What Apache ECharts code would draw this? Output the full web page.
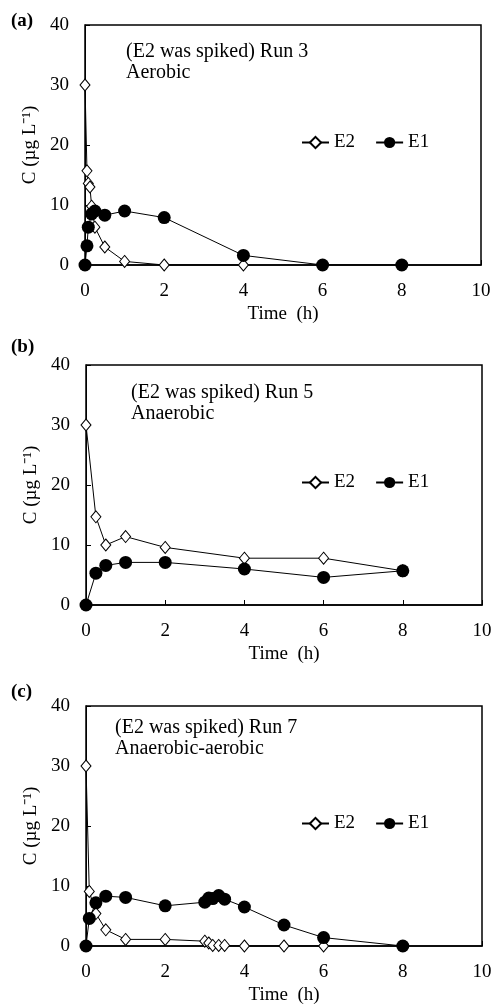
<!DOCTYPE html>
<html>
<head>
<meta charset="utf-8">
<script src="https://cdn.jsdelivr.net/npm/echarts@6/dist/echarts.min.js"></script>
<style>
html,body{margin:0;padding:0;background:#fff;}
#chart{width:496px;height:1004px;}
</style>
</head>
<body>
<div id="chart"></div>
<script>
// [time (h), C (ug/L)]
var run3E2 = [[0,30],[0.05,15.7],[0.083,13.6],[0.125,13],[0.167,9.8],[0.25,6.3],[0.5,3.0],[1,0.6],[2,0],[4,0]];
var run3E1 = [[0,0],[0.05,3.2],[0.083,6.3],[0.167,8.5],[0.25,9.0],[0.5,8.3],[1,9.0],[2,7.9],[4,1.6],[6,0],[8,0]];
var run5E2 = [[0,30],[0.25,14.7],[0.5,10],[1,11.4],[2,9.6],[4,7.8],[6,7.8],[8,5.7]];
var run5E1 = [[0,0],[0.25,5.3],[0.5,6.6],[1,7.1],[2,7.1],[4,6.0],[6,4.6],[8,5.7]];
var run7E2 = [[0,30],[0.083,9.1],[0.25,5.4],[0.5,2.7],[1,1.1],[2,1.1],[3,0.8],[3.1,0.5],[3.2,0.1],[3.35,0.1],[3.5,0.1],[4,0],[5,0],[6,0]];
var run7E1 = [[0,0],[0.083,4.6],[0.25,7.2],[0.5,8.3],[1,8.1],[2,6.7],[3,7.3],[3.1,8.0],[3.2,7.9],[3.35,8.4],[3.5,7.8],[4,6.5],[5,3.5],[6,1.4],[8,0]];

var panelTags = ['(a)', '(b)', '(c)'];
var runNotes = ['(E2 was spiked) Run 3', '(E2 was spiked) Run 5', '(E2 was spiked) Run 7'];
var runModes = ['Aerobic', 'Anaerobic', 'Anaerobic-aerobic'];
var e2Sets = [run3E2, run5E2, run7E2];
var e1Sets = [run3E1, run5E1, run7E1];
var xTicks = {min: 0, max: 10, interval: 2};
var yTicks = {min: 0, max: 40, interval: 10};

var font = '"Liberation Serif","Times New Roman",serif';
var gridTop = [25, 365, 706];
var gridLeft = [85, 86, 86];
var tagTop = [12, 338, 683];
var noteLeft = [126, 131, 115];
var noteTop = [27, 28, 22];

var chart = echarts.init(document.getElementById('chart'));
var grids = [], xAxes = [], yAxes = [], series = [], legends = [], titles = [];

for (var i = 0; i < 3; i++) {
  grids.push({left: gridLeft[i], top: gridTop[i], width: 396, height: 240,
    show: true, borderColor: '#000', borderWidth: 1.5, outerBoundsMode: 'none'});
  xAxes.push({type: 'value', gridIndex: i, min: xTicks.min, max: xTicks.max, interval: xTicks.interval,
    name: 'Time  (h)', nameLocation: 'middle', nameGap: 40,
    nameTextStyle: {fontFamily: font, fontSize: 19, color: '#000'},
    axisLine: {show: true, onZero: false, lineStyle: {color: '#000', width: 1.5}},
    axisTick: {inside: true, length: 5, lineStyle: {color: '#000'}},
    axisLabel: {fontFamily: font, fontSize: 19, color: '#000', margin: 17},
    splitLine: {show: false}});
  yAxes.push({type: 'value', gridIndex: i, min: yTicks.min, max: yTicks.max, interval: yTicks.interval,
    name: 'C (µg L⁻¹)', nameLocation: 'middle', nameGap: 35, nameRotate: 90,
    nameTextStyle: {fontFamily: font, fontSize: 19, color: '#000'},
    axisLine: {show: true, onZero: false, lineStyle: {color: '#000', width: 1}},
    axisTick: {inside: true, length: 5, lineStyle: {color: '#000'}},
    axisLabel: {fontFamily: font, fontSize: 19, color: '#000', margin: 16},
    splitLine: {show: false}});
  series.push({name: 'E2', type: 'line', xAxisIndex: i, yAxisIndex: i, data: e2Sets[i],
    symbol: 'diamond', symbolSize: [10, 12], showAllSymbol: true, z: 2,
    itemStyle: {color: '#fff', borderColor: '#000', borderWidth: 1},
    lineStyle: {color: '#000', width: 1}});
  series.push({name: 'E1', type: 'line', xAxisIndex: i, yAxisIndex: i, data: e1Sets[i],
    symbol: 'circle', symbolSize: 13, showAllSymbol: true, z: 3,
    itemStyle: {color: '#000'},
    lineStyle: {color: '#000', width: 1}});
  legends.push({data: ['E2', 'E1'], left: 296, top: gridTop[i] + 110 - 7,
    itemWidth: 27, itemHeight: 14, itemGap: 20, selectedMode: false,
    textStyle: {fontFamily: font, fontSize: 19, color: '#000'}});
  titles.push({text: panelTags[i], left: 11, top: tagTop[i], padding: 0,
    textStyle: {fontFamily: font, fontSize: 19, fontWeight: 'bold', color: '#000'}});
  titles.push({text: runNotes[i] + '\n' + runModes[i], left: noteLeft[i], top: gridTop[i] + noteTop[i] - 11,
    padding: 0,
    textStyle: {fontFamily: font, fontSize: 20, fontWeight: 'normal', color: '#000', lineHeight: 21}});
}

chart.setOption({
  animation: false,
  backgroundColor: '#fff',
  title: titles,
  legend: legends,
  grid: grids,
  xAxis: xAxes,
  yAxis: yAxes,
  series: series
});
</script>
</body>
</html>
